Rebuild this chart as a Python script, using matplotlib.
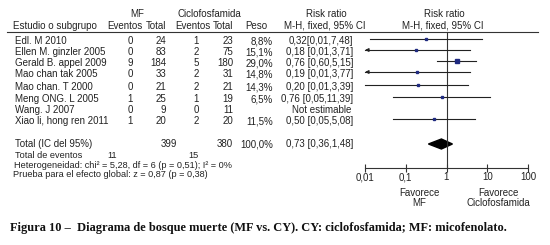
import numpy as np
import matplotlib
matplotlib.use("Agg")
import matplotlib.pyplot as plt

# ---------------- data ----------------
studies = ["Edl. M 2010", "Ellen M. ginzler 2005", "Gerald B. appel 2009",
           "Mao chan tak 2005", "Mao chan. T 2000", "Meng ONG. L 2005",
           "Wang. J 2007", "Xiao li, hong ren 2011"]
mf_events = [0, 0, 9, 0, 0, 1, 0, 1]
mf_total = [24, 83, 184, 33, 21, 25, 9, 20]
cy_events = [1, 2, 5, 2, 2, 1, 0, 2]
cy_total = [23, 75, 180, 31, 21, 19, 11, 20]
weights = ["8,8%", "15,1%", "29,0%", "14,8%", "14,3%", "6,5%", "", "11,5%"]
weight_vals = [8.8, 15.1, 29.0, 14.8, 14.3, 6.5, np.nan, 11.5]
ci_text = ["0,32[0,01,7,48]", "0,18 [0,01,3,71]", "0,76 [0,60,5,15]",
           "0,19 [0,01,3,77]", "0,20 [0,01,3,39]", "0,76 [0,05,11,39]",
           "Not estimable", "0,50 [0,05,5,08]"]
rr_point = [0.32, 0.18, 1.76, 0.19, 0.20, 0.78, np.nan, 0.48]
rr_low = [0.013, 0.01, 0.60, 0.01, 0.01, 0.05, np.nan, 0.05]
rr_high = [7.48, 3.71, 5.15, 3.77, 3.39, 11.39, np.nan, 5.08]
left_arrow = [False, True, False, True, False, False, False, False]

total_mf, total_cy, total_weight = 399, 380, "100,0%"
total_ci_text = "0,73 [0,36,1,48]"
total_rr, total_low, total_high = 0.75, 0.36, 1.40
events_mf, events_cy = 11, 15
tick_vals = [0.01, 0.1, 1, 10, 100]
tick_labels = ["0,01", "0,1", "1", "10", "100"]

# ---------------- layout ----------------
W, H = 550, 245
fig = plt.figure(figsize=(W / 100, H / 100), dpi=100)
fig.patch.set_facecolor("white")
ax = fig.add_axes([0, 0, 1, 1])
ax.set_xlim(0, W)
ax.set_ylim(H, 0)
ax.axis("off")

TC = "#222222"
FONT = "Liberation Sans"
fs = 7.0
kw = dict(fontsize=fs, family=FONT, color=TC, va="center")
kws = dict(kw, fontsize=6.6)

row_y = [41, 52, 63, 74, 87, 99, 110, 121]

# headers
ax.text(137, 14, "MF", ha="center", **kw)
ax.text(209, 14, "Ciclofosfamida", ha="center", **kw)
ax.text(326, 14, "Risk ratio", ha="center", **kw)
ax.text(444, 14, "Risk ratio", ha="center", **kw)
ax.text(13, 26, "Estudio o subgrupo", ha="left", **kw)
ax.text(125, 26, "Eventos", ha="center", **kw)
ax.text(156, 26, "Total", ha="center", **kw)
ax.text(193, 26, "Eventos", ha="center", **kw)
ax.text(223, 26, "Total", ha="center", **kw)
ax.text(256, 26, "Peso", ha="center", **kw)
ax.text(325, 26, "M-H, fixed, 95% CI", ha="center", **kw)
ax.text(443, 26, "M-H, fixed, 95% CI", ha="center", **kw)
ax.plot([7, 538], [32, 32], color="#333333", lw=0.8)

for i, y in enumerate(row_y):
    ax.text(15, y, studies[i], ha="left", **kw)
    ax.text(130, y, str(mf_events[i]), ha="center", **kw)
    ax.text(166, y, str(mf_total[i]), ha="right", **kw)
    ax.text(196, y, str(cy_events[i]), ha="center", **kw)
    ax.text(233, y, str(cy_total[i]), ha="right", **kw)
    ax.text(273, y, weights[i], ha="right", **kw)
    if ci_text[i] == "Not estimable":
        ax.text(322, y, ci_text[i], ha="center", **kw)
    else:
        ax.text(353, y, ci_text[i], ha="right", **kw)

ty = 144
ax.text(15, ty, "Total (IC del 95%)", ha="left", **kw)
ax.text(177, ty, str(total_mf), ha="right", **kw)
ax.text(233, ty, str(total_cy), ha="right", **kw)
ax.text(273, ty, total_weight, ha="right", **kw)
ax.text(353, ty, total_ci_text, ha="right", **kw)
ax.text(15, 155.5, "Total de eventos", ha="left", **kws)
ax.text(112, 155.5, str(events_mf), ha="center", **kws)
ax.text(193, 155.5, str(events_cy), ha="center", **kws)
ax.text(14, 165, "Heterogeneidad: chi\u00b2 = 5,28, df = 6 (p = 0,51); I\u00b2 = 0%", ha="left", **kws)
ax.text(13, 174.5, "Prueba para el efecto global: z = 0,87 (p = 0,38)", ha="left", **kws)

ax.text(419, 193, "Favorece", ha="center", **kw)
ax.text(419, 203, "MF", ha="center", **kw)
ax.text(498, 193, "Favorece", ha="center", **kw)
ax.text(498, 203, "Ciclofosfamida", ha="center", **kw)

ax.text(10, 228, "Figura 10 \u2013  Diagrama de bosque muerte (MF vs. CY). CY: ciclofosfamida; MF: micofenolato.",
        ha="left", va="center", fontsize=8.9, family="Liberation Serif", fontweight="bold", color="#111111")

# ---------------- forest axes ----------------
x0, x1 = 365, 528
fx = fig.add_axes([x0 / W, 0, (x1 - x0) / W, 1])
fx.set_xscale("log")
fx.set_xlim(0.01, 100)
fx.set_ylim(H, 0)
fx.patch.set_alpha(0)
for s in ["top", "left", "right"]:
    fx.spines[s].set_visible(False)
fx.spines["bottom"].set_position(("data", 168))
fx.spines["bottom"].set_color("#333333")
fx.spines["bottom"].set_linewidth(0.8)
fx.set_yticks([])
fx.set_xticks(tick_vals)
fx.set_xticklabels(tick_labels, fontsize=fs, family=FONT, color=TC)
fx.xaxis.set_minor_locator(matplotlib.ticker.NullLocator())
fx.tick_params(axis="x", direction="inout", length=6, width=0.8, color="#333333", pad=0)

fx.plot([1, 1], [32, 168], color="#333333", lw=0.8, clip_on=False)

SQ = "#1f2a80"
for i, y in enumerate(row_y):
    if np.isnan(rr_point[i]):
        continue
    yl = y - 2
    fx.plot([rr_low[i], rr_high[i]], [yl, yl], color="#222222", lw=0.8, clip_on=False)
    size = 1.2 + weight_vals[i] * 0.06
    fx.plot([rr_point[i]], [yl], marker="s", ms=size, color=SQ, mec=SQ, clip_on=False)
    if left_arrow[i]:
        fx.annotate("", xy=(rr_low[i], yl), xytext=(rr_low[i] * 1.25, yl),
                    arrowprops=dict(arrowstyle="-|>", color="#222222", lw=0.8,
                                    mutation_scale=5, shrinkA=0, shrinkB=0))

# total diamond
dy = 144
fx.fill([total_low, total_rr, total_high, total_rr], [dy, dy - 5, dy, dy + 5],
        color="black", clip_on=False)

fig.savefig("out.png", dpi=100, facecolor="white")
